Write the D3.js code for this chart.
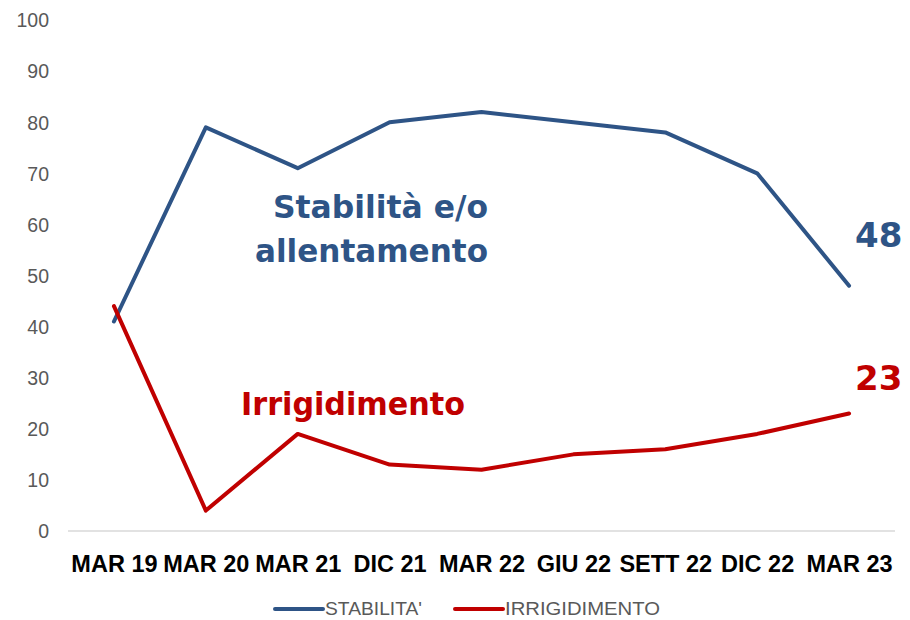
<!DOCTYPE html>
<html><head><meta charset="utf-8">
<script src="https://cdn.jsdelivr.net/npm/d3@7"></script>
<style>body{margin:0;background:#fff}</style>
</head><body>
<svg id="c" width="910" height="620"></svg>
<script>
const categories = ["MAR 19","MAR 20","MAR 21","DIC 21","MAR 22","GIU 22","SETT 22","DIC 22","MAR 23"];
const stabilita = [41,79,71,80,82,80,78,70,48];
const irrigidimento = [44,4,19,13,12,15,16,19,23];
const yTicks = [0,10,20,30,40,50,60,70,80,90,100];
const seriesNames = ["STABILITA'","IRRIGIDIMENTO"];

const blue = "#2E5486", red = "#C00000";
const svg = d3.select("#c");
const x = d3.scalePoint().domain(categories).range([68,895]).padding(0.5);
const y = d3.scaleLinear().domain([0,100]).range([531,20]);

// y axis labels
const ya = svg.append("g").attr("transform","translate(49,0)")
  .call(d3.axisLeft(y).tickValues(yTicks).tickSize(0).tickPadding(0));
ya.select(".domain").remove();
ya.selectAll("text").attr("font-family","'Liberation Sans', Arial, sans-serif").attr("font-size",19.5).attr("fill","#595959").attr("dy","0.35em");

// x axis
const xa = svg.append("g").attr("transform","translate(0,531)")
  .call(d3.axisBottom(x).tickSize(0).tickPadding(0).tickSizeOuter(0));
xa.select(".domain").attr("stroke","#d9d9d9").attr("stroke-width",1.5).attr("d","M68,0H895");
xa.selectAll("text").attr("font-family","'Liberation Sans',Arial,sans-serif").attr("font-weight","bold").attr("font-size",23.5).attr("fill","#000").attr("y",41).attr("dy",0);

const line = d3.line().x((d,i)=>x(categories[i])).y(d=>y(d));
svg.append("path").datum(stabilita).attr("d",line).attr("fill","none").attr("stroke",blue).attr("stroke-width",4).attr("stroke-linecap","round").attr("stroke-linejoin","round");
svg.append("path").datum(irrigidimento).attr("d",line).attr("fill","none").attr("stroke",red).attr("stroke-width",4).attr("stroke-linecap","round").attr("stroke-linejoin","round");

const ann = "'DejaVu Sans',sans-serif";
svg.append("text").attr("x",488).attr("y",218).attr("text-anchor","end").attr("font-family",ann).attr("font-weight","bold").attr("font-size",32).attr("fill",blue)
  .attr("textLength",215).attr("lengthAdjust","spacingAndGlyphs").text("Stabilità e/o");
svg.append("text").attr("x",488).attr("y",262).attr("text-anchor","end").attr("font-family",ann).attr("font-weight","bold").attr("font-size",32).attr("fill",blue)
  .attr("textLength",233).attr("lengthAdjust","spacingAndGlyphs").text("allentamento");
svg.append("text").attr("x",241).attr("y",415).attr("font-family",ann).attr("font-weight","bold").attr("font-size",32).attr("fill",red)
  .attr("textLength",224).attr("lengthAdjust","spacingAndGlyphs").text("Irrigidimento");

const last = categories.length-1;
svg.append("text").attr("x",x(categories[last])+6).attr("y",y(stabilita[last])-39).attr("font-family",ann).attr("font-weight","bold").attr("font-size",34).attr("fill",blue).text(stabilita[last]);
svg.append("text").attr("x",x(categories[last])+6).attr("y",y(irrigidimento[last])-23).attr("font-family",ann).attr("font-weight","bold").attr("font-size",34).attr("fill",red).text(irrigidimento[last]);

// legend
const lg = svg.append("g");
const legItems = [{name:seriesNames[0],c:blue,x:275,w:97},{name:seriesNames[1],c:red,x:455,w:155}];
legItems.forEach(it=>{
  lg.append("line").attr("x1",it.x).attr("x2",it.x+48).attr("y1",609).attr("y2",609).attr("stroke",it.c).attr("stroke-width",4).attr("stroke-linecap","round");
  lg.append("text").attr("x",it.x+50).attr("y",615).attr("font-family","'Liberation Sans',Arial,sans-serif").attr("font-size",18.5).attr("fill","#595959")
    .attr("textLength",it.w).attr("lengthAdjust","spacingAndGlyphs").text(it.name);
});
</script>
</body></html>
